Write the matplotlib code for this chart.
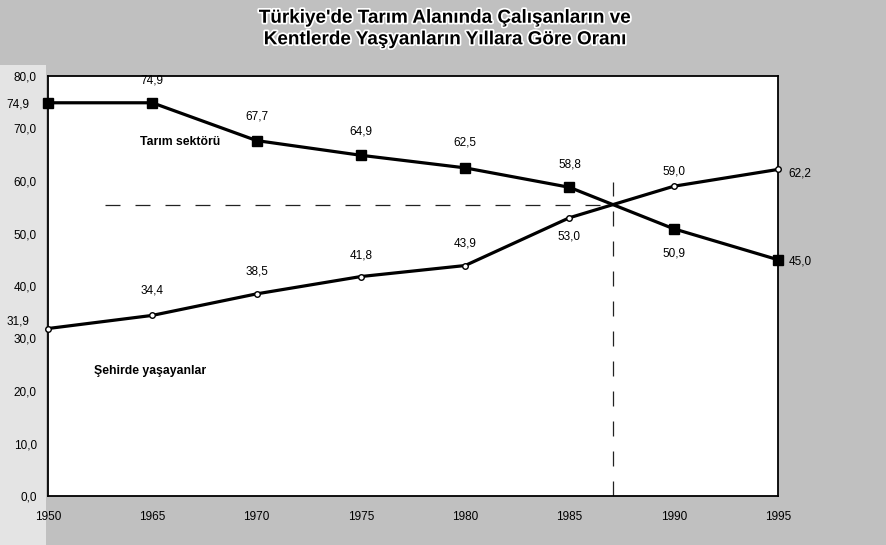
import matplotlib
matplotlib.use("Agg")
import matplotlib.pyplot as plt
import matplotlib.patheffects as pe
from matplotlib.patches import Rectangle

plt.rcParams['font.family'] = ['Liberation Sans', 'DejaVu Sans']

years = ["1950", "1965", "1970", "1975", "1980", "1985", "1990", "1995"]
tarim = [74.9, 74.9, 67.7, 64.9, 62.5, 58.8, 50.9, 45.0]
sehir = [31.9, 34.4, 38.5, 41.8, 43.9, 53.0, 59.0, 62.2]
yticks = [0, 10, 20, 30, 40, 50, 60, 70, 80]
title = "Türkiye'de Tarım Alanında Çalışanların ve\nKentlerde Yaşyanların Yıllara Göre Oranı"
label_tarim = "Tarım sektörü"
label_sehir = "Şehirde yaşayanlar"

def fmt(v):
    return f"{v:.1f}".replace(".", ",")

fig = plt.figure(figsize=(8.86, 5.45), dpi=100)
fig.patch.set_facecolor('#c0c0c0')
fig.patches.append(Rectangle((0, 0), 0.052, 0.88, transform=fig.transFigure,
                             facecolor='#e4e4e4', edgecolor='none', zorder=-5))

ax = fig.add_axes([48/886, 1-496/545, (778-48)/886, (496-76)/545])
ax.set_facecolor('white')
x = list(range(len(years)))

ax.plot(x, tarim, color='black', lw=2.3, marker='s', ms=7, mfc='black', mec='black',
        zorder=3, clip_on=False)
ax.plot(x, sehir, color='black', lw=2.3, marker='o', ms=4, mfc='white', mec='black', mew=1,
        zorder=3, clip_on=False)

# intersection between 1985 and 1990
i = 5
d0 = tarim[i] - sehir[i]
d1 = tarim[i+1] - sehir[i+1]
t = d0 / (d0 - d1)
xi = i + t
yi = tarim[i] + t * (tarim[i+1] - tarim[i])
ax.plot([0.55, xi], [yi, yi], color='#222222', lw=0.9, dashes=(12, 12), zorder=2)
ax.plot([xi, xi], [0, 59.8], color='#222222', lw=0.9, dashes=(12, 12), zorder=2)

# data labels
t_off = [(-30, -2), (0, 22), (0, 24), (0, 24), (0, 25), (0, 23), (0, -25), (22, -2)]
s_off = [(-30, 7), (0, 25), (0, 22), (0, 21), (0, 22), (0, -19), (0, 15), (22, -4)]
for xx, v, o in zip(x, tarim, t_off):
    ax.annotate(fmt(v), (xx, v), xytext=o, textcoords='offset pixels',
                ha='center', va='center', fontsize=8.5, clip_on=False, zorder=4)
for xx, v, o in zip(x, sehir, s_off):
    ax.annotate(fmt(v), (xx, v), xytext=o, textcoords='offset pixels',
                ha='center', va='center', fontsize=8.5, clip_on=False, zorder=4)

ax.text(1.27, 67.4, label_tarim, ha='center', va='center', fontsize=8.8, fontweight='bold')
ax.text(0.98, 23.8, label_sehir, ha='center', va='center', fontsize=8.8, fontweight='bold')

ax.set_xlim(0, len(years) - 1)
ax.set_ylim(0, 80)
ax.set_yticks(yticks)
ax.set_yticklabels([fmt(v) for v in yticks], fontsize=8.5)
ax.set_xticks(x)
ax.set_xticklabels(years, fontsize=8.5)
ax.tick_params(axis='both', length=0)
ax.tick_params(axis='y', pad=8)
ax.tick_params(axis='x', pad=11)
for s in ax.spines.values():
    s.set_color('black')
    s.set_linewidth(1.3)

fig.text(445/886, 1-29/545, title, ha='center', va='center', fontsize=13.6,
         fontweight='bold', linespacing=1.35, color='black',
         path_effects=[pe.withStroke(linewidth=2.5, foreground='white')])

fig.savefig('out.png', dpi=100, facecolor=fig.get_facecolor())
